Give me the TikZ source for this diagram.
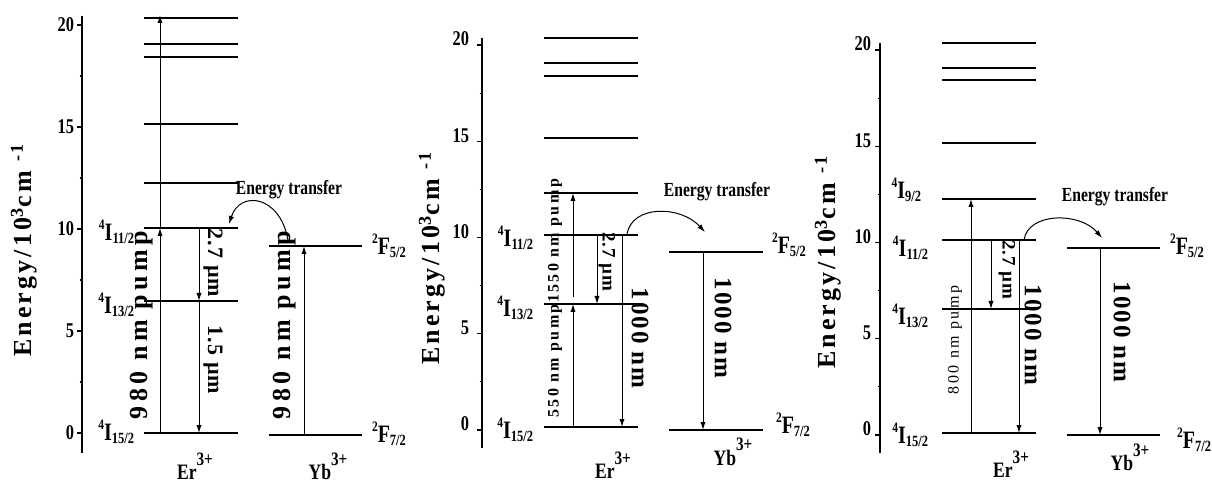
\documentclass[tikz,border=0pt]{standalone}
\usepackage{fontspec}
\setmainfont{Liberation Serif}
\usepackage{graphicx}
\usetikzlibrary{arrows.meta}
\newcommand{\cx}[2][0.82]{\scalebox{#1}[1]{#2}}
\newcommand{\lv}[3]{\scalebox{0.8}[1]{\raisebox{5.5pt}{\fontsize{7.2}{7.2}\selectfont#1}#2\raisebox{-1.2pt}{\fontsize{7.8}{7.8}\selectfont#3}}}
\newcommand{\ion}[1]{\scalebox{0.8}[1]{#1\raisebox{7pt}{\fontsize{9.5}{9.5}\selectfont 3+}}}
\begin{document}
\begin{tikzpicture}[x=0.5pt,y=-0.5pt,
  every node/.style={inner sep=0pt,outer sep=0pt},
  axisline/.style={line width=0.55pt},
  levthick/.style={line width=1.4pt},
  levthin/.style={line width=0.7pt},
  trans/.style={line width=0.5pt,-{Latex[length=4pt,width=2.6pt]}},
  ticklab/.style={font=\bfseries\fontsize{10.5}{10.5}\selectfont,anchor=east},
  levlab/.style={font=\bfseries\fontsize{12.5}{12.5}\selectfont},
  ionlab/.style={font=\bfseries\fontsize{11}{11}\selectfont,anchor=base},
  etlab/.style={font=\bfseries\fontsize{10}{10}\selectfont},
  ylab/.style={font=\bfseries\fontsize{13}{13}\selectfont\addfontfeature{LetterSpace=12},rotate=90},
  pumpbig/.style={font=\bfseries\fontsize{13}{13}\selectfont\addfontfeature{LetterSpace=17},rotate=90},
  pumpsmall/.style={font=\bfseries\fontsize{8}{8}\selectfont\addfontfeature{LetterSpace=15},rotate=90},
  pumpthin/.style={font=\fontsize{8}{8}\selectfont\addfontfeature{LetterSpace=15},rotate=90},
  emlab/.style={font=\bfseries\fontsize{11}{11}\selectfont\addfontfeature{LetterSpace=5},rotate=-90},
  emsmall/.style={font=\bfseries\fontsize{9.5}{9.5}\selectfont\addfontfeature{LetterSpace=5},rotate=-90},
  nmlab/.style={font=\bfseries\fontsize{12.5}{12.5}\selectfont\addfontfeature{LetterSpace=8},rotate=-90},
]
\fill[white] (0,0) rectangle (1212,481);
\useasboundingbox (0,0) rectangle (1212,481);

%================ Panel 1 =================
\draw[axisline] (82,16) -- (82,453);
\foreach \y/\t in {433/0,331/5,229/10,127/15,25/20} {
  \draw[axisline] (77,\y) -- (82,\y);
  \node[ticklab] (p1t\t) at (74,\y) {\cx[0.78]{\t}};
}
\foreach \y in {382,280,178,76} \draw[axisline] (79.5,\y) -- (82,\y);
\draw[levthick,line width=0.9pt] (144,18) -- (238,18);
\foreach \y in {44,57,124,183,228,301,433} \draw[levthick] (144,\y) -- (238,\y);
\draw[levthick] (269,246) -- (362,246);
\draw[levthick] (269,435) -- (362,435);
\node[levlab,anchor=east] (p1l11) at (134,232) {\lv{4}{I}{11/2}};
\node[levlab,anchor=east] (p1l13) at (134,305) {\lv{4}{I}{13/2}};
\node[levlab,anchor=east] (p1l15) at (134,432) {\lv{4}{I}{15/2}};
\node[levlab,anchor=west] (p1f5) at (372,246) {\lv{2}{F}{5/2}};
\node[levlab,anchor=west] (p1f7) at (372,434) {\lv{2}{F}{7/2}};
\node[ionlab] (p1er) at (195,479) {\ion{Er}};
\node[ionlab] (p1yb) at (328,479) {\ion{Yb}};
\node[ylab] (p1y) at (24,250) {Energy/10\textsuperscript{3}cm \textsuperscript{-1}};
\node[etlab] (p1et) at (289,190) {\cx[0.78]{Energy transfer}};
\node[pumpbig] (p1pump) at (142,325) {980 nm pump};
\node[pumpbig] (p1ypump) at (285,325) {980 nm pump};
\node[emlab] (p1a) at (213,263) {2.7 µm};
\node[emlab] (p1b) at (213,360) {1.5 µm};
\coordinate (p1g) at (160,433); \coordinate (p1m) at (160,228); \coordinate (p1top) at (160,15);
\draw[trans] (p1g) -- (p1m); \draw[trans] (p1m) -- (p1top);
\coordinate (p1s) at (199,228); \coordinate (p1u) at (199,301); \coordinate (p1v) at (199,433);
\draw[trans] (p1s) -- (p1u); \draw[trans] (p1u) -- (p1v);
\coordinate (p1yg) at (304,435); \coordinate (p1ye) at (304,246);
\draw[trans] (p1yg) -- (p1ye);
\coordinate (p1e1) at (288,240); \coordinate (p1e2) at (229,224);
\draw[trans] (p1e1) .. controls (280,195) and (240,190) .. (p1e2);

%================ Panel 2 =================
\draw[axisline] (482,38) -- (482,448);
\foreach \y/\t in {430/0,333.75/5,237.5/10,141.25/15,45/20} {
  \draw[axisline] (477,\y) -- (482,\y);
  \node[ticklab] (p2t\t) at (469,\y-6) {\cx[0.78]{\t}};
}
\foreach \y in {381.9,285.6,189.4,93.1} \draw[axisline] (479.5,\y) -- (482,\y);
\draw[levthin] (544,38) -- (638,38);
\foreach \y in {63,76,138,193,235,304,427} \draw[levthick] (544,\y) -- (638,\y);
\draw[levthick] (669,252) -- (763,252);
\draw[levthick] (669,430) -- (763,430);
\node[levlab,anchor=east] (p2l11) at (533,238) {\lv{4}{I}{11/2}};
\node[levlab,anchor=east] (p2l13) at (533,308) {\lv{4}{I}{13/2}};
\node[levlab,anchor=east] (p2l15) at (533,430) {\lv{4}{I}{15/2}};
\node[levlab,anchor=west] (p2f5) at (772,245) {\lv{2}{F}{5/2}};
\node[levlab,anchor=west] (p2f7) at (776,425) {\lv{2}{F}{7/2}};
\node[ionlab] (p2er) at (613,478) {\ion{Er}};
\node[ionlab] (p2yb) at (733,465) {\ion{Yb}};
\node[ylab] (p2y) at (432,258) {Energy/10\textsuperscript{3}cm \textsuperscript{-1}};
\node[etlab] (p2et) at (717,192) {\cx[0.78]{Energy transfer}};
\node[pumpsmall] (p2p550) at (555,361) {550 nm pump};
\node[pumpsmall] (p2p1550) at (555,241) {1550 nm pump};
\node[emsmall] (p2a) at (607,262) {2.7 µm};
\node[nmlab] (p2nm) at (640,338) {1000 nm};
\node[nmlab] (p2ynm) at (723,328) {1000 nm};
\coordinate (p2g) at (573,427); \coordinate (p2m) at (573,304);
\coordinate (p2m2) at (573,297); \coordinate (p2h) at (573,193);
\draw[trans] (p2g) -- (p2m); \draw[trans] (p2m2) -- (p2h);
\coordinate (p2s) at (597,235); \coordinate (p2u) at (597,304);
\draw[trans] (p2s) -- (p2u);
\coordinate (p2r) at (622,235); \coordinate (p2rg) at (622,427);
\draw[trans] (p2r) -- (p2rg);
\coordinate (p2ye) at (703,252); \coordinate (p2yg) at (703,430);
\draw[trans] (p2ye) -- (p2yg);
\coordinate (p2e1) at (627,234); \coordinate (p2e2) at (705,232);
\draw[trans] (p2e1) .. controls (632,205) and (680,205) .. (p2e2);

%================ Panel 3 =================
\draw[axisline] (880,43) -- (880,453);
\foreach \y/\t in {435/0,338.75/5,242.5/10,146.25/15,50/20} {
  \draw[axisline] (875,\y) -- (880,\y);
  \node[ticklab] (p3t\t) at (871,\y-6) {\cx[0.78]{\t}};
}
\foreach \y in {386.9,290.6,194.4,98.1} \draw[axisline] (877.5,\y) -- (880,\y);
\draw[levthin] (942,43) -- (1036,43);
\foreach \y in {68,80,143,199,240,309,433} \draw[levthick] (942,\y) -- (1036,\y);
\draw[levthick] (1067,248) -- (1160,248);
\draw[levthick] (1067,435) -- (1160,435);
\node[levlab,anchor=east] (p3l9) at (921,190) {\lv{4}{I}{9/2}};
\node[levlab,anchor=east] (p3l11) at (928,248) {\lv{4}{I}{11/2}};
\node[levlab,anchor=east] (p3l13) at (928,316) {\lv{4}{I}{13/2}};
\node[levlab,anchor=east] (p3l15) at (928,435) {\lv{4}{I}{15/2}};
\node[levlab,anchor=west] (p3f5) at (1170,246) {\lv{2}{F}{5/2}};
\node[levlab,anchor=east] (p3f7) at (1211,440) {\lv{2}{F}{7/2}};
\node[ionlab] (p3er) at (1011,477) {\ion{Er}};
\node[ionlab] (p3yb) at (1130,470) {\ion{Yb}};
\node[ylab] (p3y) at (828,262) {Energy/10\textsuperscript{3}cm \textsuperscript{-1}};
\node[etlab] (p3et) at (1115,197) {\cx[0.78]{Energy transfer}};
\node[pumpthin] (p3p800) at (955,340) {800 nm pump};
\node[emsmall] (p3a) at (1007,270) {2.7 µm};
\node[nmlab] (p3nm) at (1033,335) {1000 nm};
\node[nmlab] (p3ynm) at (1122,332) {1000 nm};
\coordinate (p3g) at (971,433); \coordinate (p3h) at (971,199);
\draw[trans] (p3g) -- (p3h);
\coordinate (p3s) at (991,240); \coordinate (p3u) at (991,309);
\draw[trans] (p3s) -- (p3u);
\coordinate (p3r) at (1019,240); \coordinate (p3rg) at (1019,433);
\draw[trans] (p3r) -- (p3rg);
\coordinate (p3ye) at (1100,248); \coordinate (p3yg) at (1100,435);
\draw[trans] (p3ye) -- (p3yg);
\coordinate (p3e1) at (1024,240); \coordinate (p3e2) at (1102,238);
\draw[trans] (p3e1) .. controls (1028,212) and (1080,212) .. (p3e2);
\end{tikzpicture}
\end{document}
